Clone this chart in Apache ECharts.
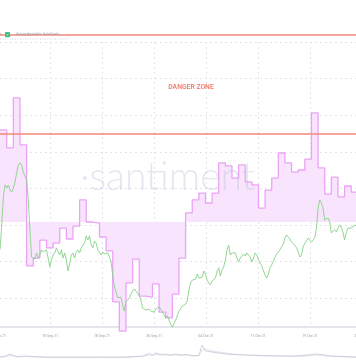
<!DOCTYPE html>
<html>
<head>
<meta charset="utf-8">
<script src="https://cdn.jsdelivr.net/npm/echarts/dist/echarts.min.js"></script>
<style>html,body{margin:0;padding:0;background:#fff}#c{width:356px;height:364px}</style>
</head>
<body>
<div id="c"></div>
<script>
// ---- data ----
const axisOriginTime = '2021-09-02T16:19:00Z';   // left end of the time axis
const tickStepDays = 7.85;                        // tick spacing of the time axis
const axisSpanDays = 54.95;

// daily social metric (purple steps), one value per day starting at purpleStart
const purpleStart = '2021-09-02';
const purpleValues = [61.8, 61.8, 56.5, 71.2, 57.4, 21.8, 24.1, 29.4, 27.1, 28.5,
  32.9, 29.7, 33.5, 41.2, 34.7, 34.4, 30.3, 26.2, 11.2, 2.6,
  16.8, 23.8, 12.9, 12.6, 16.5, 8.2, 6.5, 13.5, 24.1, 37.4,
  41.2, 43.2, 40.3, 43.2, 52.1, 51.2, 47.6, 51.5, 46.5, 45.6,
  38.8, 44.1, 47.6, 55.0, 52.1, 49.4, 50.0, 53.2, 66.8, 50.6,
  42.9, 47.9, 42.1, 45.3, 43.5, 43.5];
const purpleBaseline = 34.7;

// price (green), one value every 6 hours starting at greenStart
const greenStart = '2021-09-02T18:00:00Z';
const greenStepHours = 6;
const greenValues = [25.9, 26.8, 33.8, 42.4, 45.6, 44.7, 45.6, 44.1, 43.5, 44.7,
  46.5, 49.1, 51.5, 52.1, 51.5, 49.4, 48.2, 47.1, 41.2, 32.4,
  24.4, 24.1, 23.8, 25.6, 24.1, 25.0, 26.5, 25.9, 25.9, 26.5,
  24.1, 21.5, 23.5, 25.0, 25.6, 27.1, 25.9, 25.0, 26.5, 24.1,
  25.6, 23.5, 20.3, 22.6, 25.0, 25.6, 24.1, 25.9, 26.5, 25.6,
  27.1, 27.4, 28.5, 30.6, 29.4, 30.6, 27.9, 27.1, 29.1, 28.5,
  26.5, 26.2, 25.0, 25.9, 25.3, 25.0, 25.6, 24.4, 22.9, 19.1,
  15.6, 14.1, 12.4, 12.9, 12.6, 10.3, 8.5, 11.2, 11.2, 12.4,
  13.5, 14.4, 15.0, 14.7, 13.8, 12.9, 11.8, 9.4, 9.1, 8.8,
  8.8, 9.1, 8.5, 8.8, 8.2, 9.1, 9.4, 9.7, 9.1, 8.2,
  7.4, 6.5, 7.1, 5.9, 4.7, 3.8, 4.1, 5.9, 7.1, 8.5,
  8.8, 10.0, 9.7, 10.6, 11.5, 14.7, 16.8, 17.6, 17.1, 17.9,
  19.4, 18.2, 18.2, 18.5, 20.3, 19.4, 17.6, 16.8, 16.2, 17.4,
  17.9, 18.2, 20.3, 21.2, 18.8, 20.6, 21.5, 23.5, 26.5, 27.9,
  25.0, 25.6, 25.3, 25.6, 24.1, 22.9, 24.1, 24.4, 25.3, 24.7,
  25.6, 25.9, 24.4, 22.9, 24.1, 25.6, 25.0, 23.5, 22.6, 21.8,
  20.3, 19.1, 18.2, 19.4, 21.2, 22.1, 23.2, 24.4, 25.3, 25.9,
  26.5, 27.4, 28.2, 30.0, 30.9, 30.3, 29.7, 28.8, 28.5, 27.9,
  27.1, 25.9, 24.4, 25.0, 27.4, 28.5, 28.8, 30.0, 29.4, 28.8,
  29.4, 30.0, 32.9, 38.8, 41.2, 40.3, 38.8, 35.3, 35.6, 35.9,
  34.7, 31.5, 31.8, 32.4, 31.8, 32.9, 33.8, 33.2, 31.8, 29.4,
  31.5, 32.9, 33.2, 32.9, 33.5, 33.8, 33.8];

// danger levels
const dangerLevels = [89.7, 60.6];

// navigator (overview) lines
const navTimes = ['2021-09-02T12:00Z','2021-09-03T12:00Z','2021-09-04T12:00Z','2021-09-05T00:00Z','2021-09-05T12:00Z',
  '2021-09-07T00:00Z','2021-09-08T00:00Z','2021-09-10T00:00Z','2021-09-14T00:00Z','2021-09-18T00:00Z',
  '2021-09-22T00:00Z','2021-09-24T12:00Z','2021-09-25T12:00Z','2021-09-26T00:00Z','2021-09-26T12:00Z',
  '2021-09-27T06:00Z','2021-09-28T00:00Z','2021-09-28T18:00Z','2021-09-29T12:00Z','2021-09-30T06:00Z',
  '2021-10-01T00:00Z','2021-10-02T00:00Z','2021-10-03T00:00Z','2021-10-03T12:00Z','2021-10-04T00:00Z',
  '2021-10-05T00:00Z','2021-10-06T00:00Z','2021-10-07T00:00Z','2021-10-08T00:00Z','2021-10-10T00:00Z',
  '2021-10-13T00:00Z','2021-10-17T00:00Z','2021-10-19T12:00Z','2021-10-20T12:00Z','2021-10-21T12:00Z',
  '2021-10-23T00:00Z','2021-10-27T00:00Z'];
const navA = [7, 7.5, 10, 8.5, 7.5, 8, 7.5, 7, 7, 7,
  7, 8, 10.5, 9, 11, 9.5, 10, 9, 10, 9,
  9.5, 8.5, 8.5, 19, 13, 12, 11, 10, 9.5, 9,
  8.5, 8, 9, 10, 9.5, 8, 7];
const navB = [6.5, 7, 8.5, 8, 7, 7.5, 7, 6.5, 6.5, 6.5,
  6.5, 7.5, 9, 8.5, 9.5, 9, 9, 8.5, 9, 8.5,
  9, 8, 8, 14, 15, 13, 12, 11, 10, 9,
  8, 7.5, 8, 9, 8.5, 7.5, 6.5];

const xLabelMonths = ['Jan','Feb','Mar','Apr','May','Jun','Jul','Aug','Sep','Oct','Nov','Dec'];

// ---- build ----
const DAY = 86400000;
const T0 = Date.parse(axisOriginTime);
const toX = t => (t - T0) / DAY;

const purpleData = purpleValues.map((v, i) => [toX(Date.parse(purpleStart + 'T00:00:00Z') + i * DAY), v]);
const greenData = greenValues.map((v, i) => [toX(Date.parse(greenStart) + i * greenStepHours * 3600000), v]);
const navDataA = navTimes.map((t, i) => [toX(Date.parse(t)), navA[i]]);
const navDataB = navTimes.map((t, i) => [toX(Date.parse(t)), navB[i]]);

function fmt(v) {
  const d = new Date(T0 + v * DAY);
  const dd = String(d.getUTCDate()).padStart(2, '0');
  return dd + ' ' + xLabelMonths[d.getUTCMonth()] + ' ' + String(d.getUTCFullYear()).slice(2);
}

const chart = echarts.init(document.getElementById('c'), null, {renderer: 'canvas'});
const FONT = 'Roboto, "Noto Sans", sans-serif';
const G = {outerBoundsMode: 'none', containLabel: false};
chart.setOption({
  animation: false,
  backgroundColor: '#fff',
  grid: [
    Object.assign({left: -2, right: -6, top: 0, height: 340}, G),
    Object.assign({left: -2, right: -6, top: 42, height: 285}, G),
    Object.assign({left: 0, right: 0, top: 42, height: 256.2}, G),
    Object.assign({left: -2, right: -6, top: 344, height: 20}, G)
  ],
  xAxis: [
    {gridIndex: 0, type: 'value', min: 0, max: axisSpanDays, show: false},
    {gridIndex: 1, type: 'value', min: 0, max: axisSpanDays, interval: tickStepDays,
      axisLine: {show: true, lineStyle: {color: '#e5e5ee', width: 2}},
      axisTick: {show: false},
      axisLabel: {formatter: fmt, fontSize: 3.6, color: '#9a9aa9', margin: 7, fontFamily: FONT,
        showMinLabel: true, showMaxLabel: true, alignMinLabel: 'center', alignMaxLabel: 'center', hideOverlap: false},
      splitLine: {show: true, lineStyle: {color: '#e4e4ec', type: [2, 3], width: 1}}},
    {gridIndex: 2, type: 'value', min: 0, max: 1, show: false},
    {gridIndex: 3, type: 'value', min: 0, max: axisSpanDays, show: false}
  ],
  yAxis: [
    {gridIndex: 0, type: 'value', min: 0, max: 100, show: false},
    {gridIndex: 1, type: 'value', min: 0, max: 1, show: false},
    {gridIndex: 2, type: 'value', min: 0, max: 7, interval: 1,
      axisLine: {show: false}, axisTick: {show: false}, axisLabel: {show: false},
      splitLine: {show: true, lineStyle: {color: '#e4e4ec', type: [2, 3], width: 1}}},
    {gridIndex: 3, type: 'value', min: 0, max: 20, show: false}
  ],
  graphic: [
    {type: 'text', z: 100, left: 80, top: 158, silent: true, style: {text: '·santiment', fontSize: 39, fontFamily: 'Lato, sans-serif', fontWeight: 300, fill: 'rgba(185,190,215,0.38)'}},
    {type: 'text', z: 10, x: 191, y: 87, style: {text: 'DANGER ZONE', fontSize: 6.8, fontFamily: FONT, fontWeight: 500, fill: '#f07462', align: 'center', verticalAlign: 'middle'}},
    {type: 'rect', z: 10, shape: {x: 5, y: 32, width: 5.2, height: 5.2, r: 1}, style: {fill: '#3dbd8b'}},
    {type: 'text', z: 11, x: 7.6, y: 34.8, style: {text: '✓', fontSize: 4, fill: '#fff', align: 'center', verticalAlign: 'middle'}},
    {type: 'text', z: 10, x: 0, y: 34.5, style: {text: 's', fontSize: 3.6, fontFamily: FONT, fill: '#a0a0ae', verticalAlign: 'middle'}},
    {type: 'text', z: 10, x: 16, y: 34.5, style: {text: 'Auto-adjustable: AutoScale', fontSize: 3.6, fontFamily: FONT, fill: '#9a9aa9', verticalAlign: 'middle'}},
    {type: 'text', z: 10, x: 66, y: 34.5, style: {text: '⌄', fontSize: 4, fontFamily: FONT, fill: '#a0a0ae', verticalAlign: 'middle'}},
    {type: 'line', z: 10, shape: {x1: 0, y1: 39, x2: 68, y2: 39}, style: {stroke: '#d6d6de', lineWidth: 1, lineDash: [1, 1.5]}}
  ],
  series: [
    {type: 'line', name: 'social', xAxisIndex: 0, yAxisIndex: 0, data: purpleData, step: 'end',
      symbol: 'none', z: 2,
      lineStyle: {color: '#eba3f6', width: 1.3},
      areaStyle: {origin: purpleBaseline, color: '#f9e4fd', opacity: 1},
      markLine: {silent: true, symbol: 'none', label: {show: false},
        lineStyle: {color: '#f2897a', width: 1.5, type: 'solid'},
        data: dangerLevels.map(v => ({yAxis: v}))}},
    {type: 'line', name: 'price', xAxisIndex: 0, yAxisIndex: 0, data: greenData,
      symbol: 'none', z: 3, lineStyle: {color: '#86d287', width: 0.9}},
    {type: 'line', name: 'navB', xAxisIndex: 3, yAxisIndex: 3, data: navDataB,
      symbol: 'none', lineStyle: {color: '#dcdce8', width: 0.8}},
    {type: 'line', name: 'navA', xAxisIndex: 3, yAxisIndex: 3, data: navDataA,
      symbol: 'none', lineStyle: {color: '#c6c7d6', width: 0.8}}
  ]
});
</script>
</body>
</html>
